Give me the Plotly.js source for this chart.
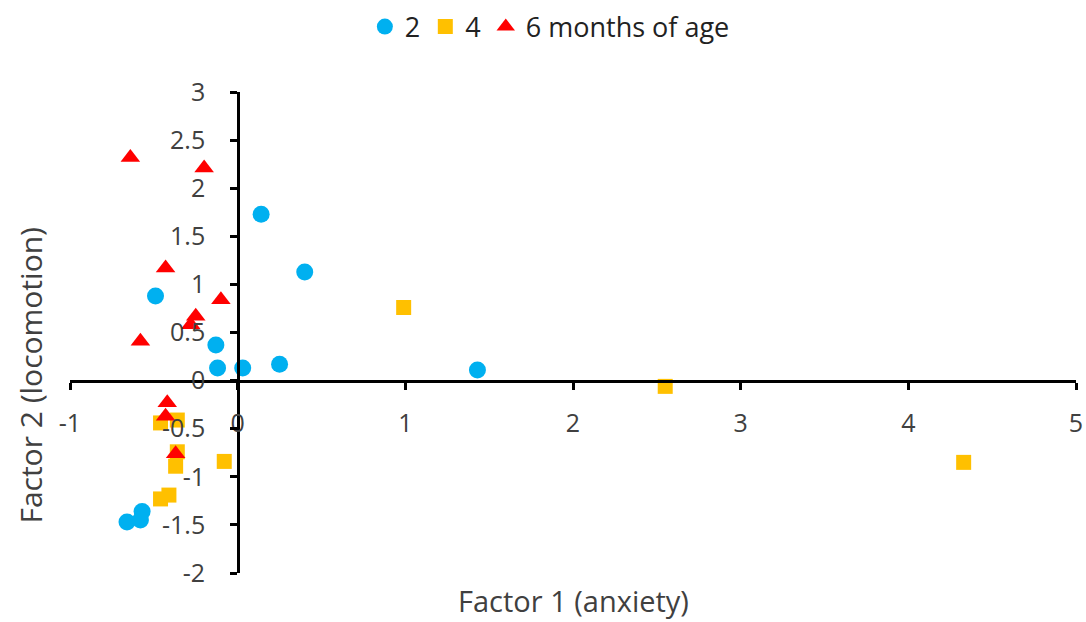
<!DOCTYPE html>
<html><head><meta charset="utf-8">
<script src="https://cdn.plot.ly/plotly-3.0.1.min.js"></script>
<style>html,body{margin:0;padding:0;background:#fff;}#chart{width:1086px;height:622px;}</style>
</head><body><div id="chart"></div>
<script>
const seriesNames = ["2", "4", "6 months of age"];
const age2X = [0.14, 0.40, -0.49, -0.13, -0.12, 0.03, 0.25, 1.43, -0.66, -0.57, -0.58];
const age2Y = [1.73, 1.13, 0.88, 0.37, 0.13, 0.13, 0.17, 0.11, -1.47, -1.36, -1.45];
const age4X = [0.99, 2.55, 4.33, -0.46, -0.36, -0.36, -0.37, -0.08, -0.46, -0.41];
const age4Y = [0.76, -0.06, -0.85, -0.44, -0.41, -0.74, -0.89, -0.84, -1.23, -1.19];
const age6X = [-0.64, -0.20, -0.43, -0.10, -0.25, -0.28, -0.58, -0.42, -0.43, -0.37];
const age6Y = [2.32, 2.21, 1.17, 0.84, 0.67, 0.58, 0.41, -0.23, -0.37, -0.76];
const xTicks = [-1, 0, 1, 2, 3, 4, 5];
const yTicks = [-2, -1.5, -1, -0.5, 0, 0.5, 1, 1.5, 2, 2.5, 3];

const pad = '\u00a0\u00a0\u00a0';
const traces = [
  {x: age2X, y: age2Y, name: seriesNames[0], type: 'scatter', mode: 'markers',
   marker: {symbol: 'circle', size: 17, color: '#00B0F0'}},
  {x: age4X, y: age4Y, name: seriesNames[1], type: 'scatter', mode: 'markers',
   marker: {symbol: 'square', size: 15, color: '#FFC000'}},
  {x: age6X, y: age6Y, name: seriesNames[2], type: 'scatter', mode: 'markers',
   marker: {symbol: 'triangle-up', size: 17, color: '#FF0000'}}
];
const font = {family: 'Open Sans, sans-serif', color: '#404040'};
const layout = {
  width: 1086, height: 622,
  margin: {l: 70, r: 10, t: 92, b: 49, autoexpand: false},
  paper_bgcolor: '#fff', plot_bgcolor: '#fff',
  font: font,
  showlegend: true,
  legend: {orientation: 'h', x: 0.477, xanchor: 'center', y: 1.135, yanchor: 'middle',
           xref: 'paper', font: {size: 27, color: '#222'}, itemwidth: 20, tracegroupgap: 0},
  xaxis: {range: [-1, 5], tickvals: xTicks, ticktext: xTicks.map(String),
          showgrid: false, zeroline: false, showline: true, linecolor: '#000', linewidth: 3,
          ticks: 'outside', ticklen: 7, tickwidth: 3, tickcolor: '#000',
          ticklabelstandoff: 12, automargin: false,
          anchor: 'free', position: 0.4, tickfont: {size: 25, color: '#404040'}},
  yaxis: {range: [-2, 3], tickvals: yTicks, ticktext: yTicks.map(v => String(v) + pad),
          showgrid: false, zeroline: false, showline: true, linecolor: '#000', linewidth: 3,
          ticks: 'outside', ticklen: 7, tickwidth: 3, tickcolor: '#000', automargin: false,
          anchor: 'free', position: 1/6, tickfont: {size: 25, color: '#404040'}},
  annotations: [
    {text: 'Factor 1 (anxiety)', xref: 'paper', yref: 'paper', x: 0.5, y: -0.058,
     xanchor: 'center', yanchor: 'middle', showarrow: false, font: {size: 29, color: '#404040'}},
    {text: 'Factor 2 (locomotion)', xref: 'paper', yref: 'paper', x: -0.039, y: 0.412,
     xanchor: 'center', yanchor: 'middle', showarrow: false, textangle: -90,
     font: {size: 30, color: '#404040'}}
  ]
};
Plotly.newPlot('chart', traces, layout, {displayModeBar: false, responsive: false});
</script></body></html>
